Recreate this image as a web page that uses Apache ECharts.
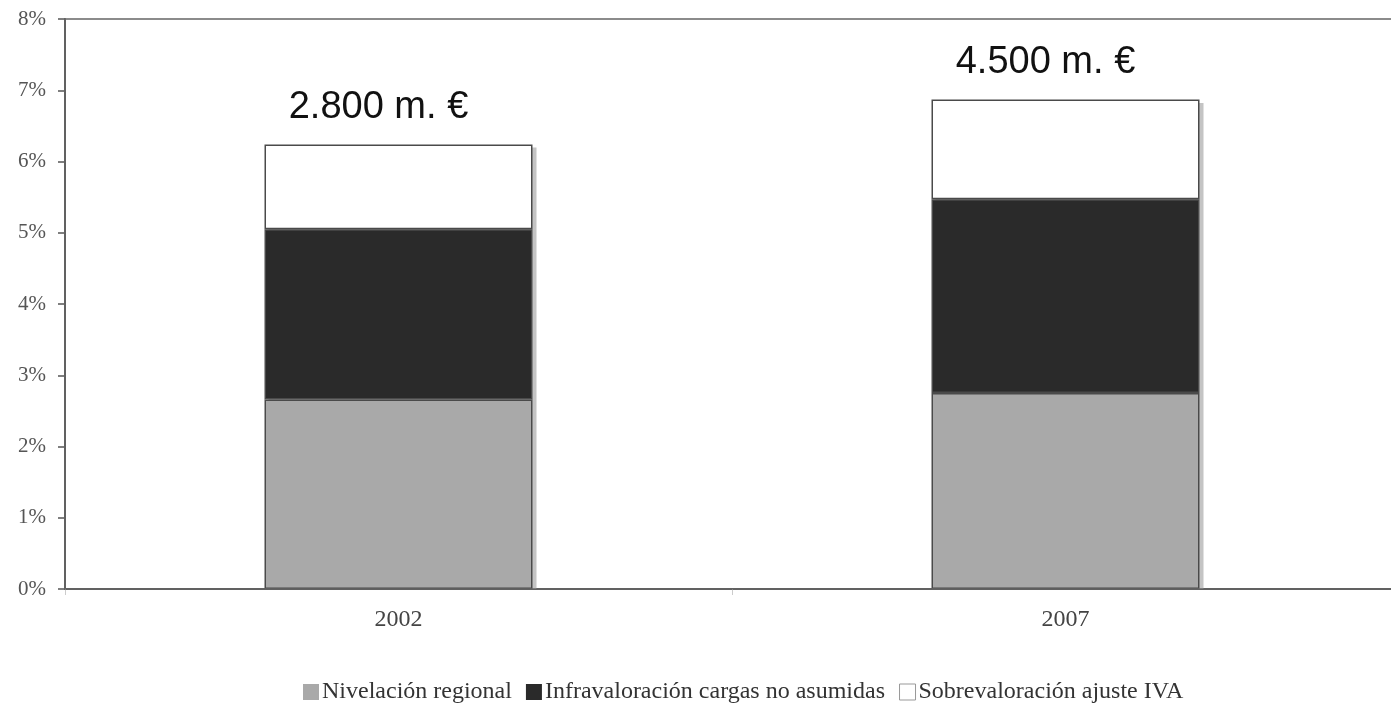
<!DOCTYPE html>
<html>
<head>
<meta charset="utf-8">
<script src="https://cdn.jsdelivr.net/npm/echarts@6/dist/echarts.min.js"></script>
<style>html,body{margin:0;padding:0;background:#fff;overflow:hidden;}#c{width:1391px;height:704px;}</style>
</head>
<body>
<div id="c"></div>
<script>
var categories = ['2002', '2007'];
var nivelacion = [2.66, 2.75];
var infravaloracion = [2.39, 2.72];
var sobrevaloracion = [1.19, 1.40];
var totalLabels = ['2.800 m. €', '4.500 m. €'];
var yTicks = [0, 1, 2, 3, 4, 5, 6, 7, 8];

var totals = categories.map(function (c, i) { return nivelacion[i] + infravaloracion[i] + sobrevaloracion[i]; });

var serif = '"Liberation Serif", "DejaVu Serif", serif';
var border = { borderColor: '#4a4a4a', borderWidth: 1.5 };

var chart = echarts.init(document.getElementById('c'), null, { renderer: 'canvas' });
chart.setOption({
  animation: false,
  backgroundColor: '#fff',
  grid: [
    { left: 65, width: 1334, top: 19, bottom: 115, show: true, borderColor: '#666', borderWidth: 1.5, z: 3,
      outerBoundsMode: 'none', containLabel: false },
    { left: 69, width: 1334, top: 23, bottom: 115, show: false, outerBoundsMode: 'none', containLabel: false }
  ],
  legend: {
    top: 675,
    left: 298,
    itemWidth: 16,
    itemHeight: 16,
    itemGap: 14,
    textStyle: { fontFamily: serif, fontSize: 24, color: '#333', padding: [0, 0, 0, -2] },
    data: [
      { name: 'Nivelación regional', icon: 'rect', itemStyle: { color: '#a9a9a9', borderWidth: 0 } },
      { name: 'Infravaloración cargas no asumidas', icon: 'rect', itemStyle: { color: '#2a2a2a', borderWidth: 0 } },
      { name: 'Sobrevaloración ajuste IVA', icon: 'rect', itemStyle: { color: '#fff', borderColor: '#999', borderWidth: 1 } }
    ]
  },
  xAxis: [
    {
      type: 'category',
      gridIndex: 0,
      data: categories,
      axisLine: { lineStyle: { color: '#555', width: 2 } },
      axisTick: { show: true, length: 6, lineStyle: { color: '#ccc' } },
      axisLabel: { fontFamily: serif, fontSize: 24, color: '#444', margin: 19 }
    },
    { type: 'category', gridIndex: 1, data: categories, show: false }
  ],
  yAxis: [
    {
      type: 'value',
      gridIndex: 0,
      min: 0,
      max: 8,
      interval: 1,
      splitLine: { show: false },
      axisLine: { show: true, lineStyle: { color: '#555', width: 2 } },
      axisTick: { show: true, length: 7, lineStyle: { color: '#555', width: 1.5 } },
      axisLabel: { fontFamily: serif, fontSize: 21, color: '#555', margin: 19,
        formatter: function (v) { return yTicks.indexOf(v) >= 0 ? v + '%' : ''; } }
    },
    { type: 'value', gridIndex: 1, min: 0, max: 8, interval: 1, show: false, splitLine: { show: false } }
  ],
  series: [
    { name: 'shadow', type: 'bar', xAxisIndex: 1, yAxisIndex: 1, barWidth: 268, data: totals, z: 1,
      itemStyle: { color: '#c4c4c4' }, silent: true, legendHoverLink: false },
    { name: 'Nivelación regional', type: 'bar', stack: 't', barWidth: 268, data: nivelacion, z: 2,
      itemStyle: Object.assign({ color: '#a9a9a9' }, border) },
    { name: 'Infravaloración cargas no asumidas', type: 'bar', stack: 't', barWidth: 268, data: infravaloracion, z: 2,
      itemStyle: Object.assign({ color: '#2a2a2a' }, border) },
    { name: 'Sobrevaloración ajuste IVA', type: 'bar', stack: 't', barWidth: 268, data: sobrevaloracion, z: 2,
      itemStyle: Object.assign({ color: '#ffffff' }, border),
      label: { show: true, position: 'top', distance: 18, offset: [-20, 0],
        fontFamily: '"Liberation Sans", Arial, sans-serif', fontSize: 38, color: '#111',
        formatter: function (p) { return totalLabels[p.dataIndex]; } } }
  ]
});
</script>
</body>
</html>
